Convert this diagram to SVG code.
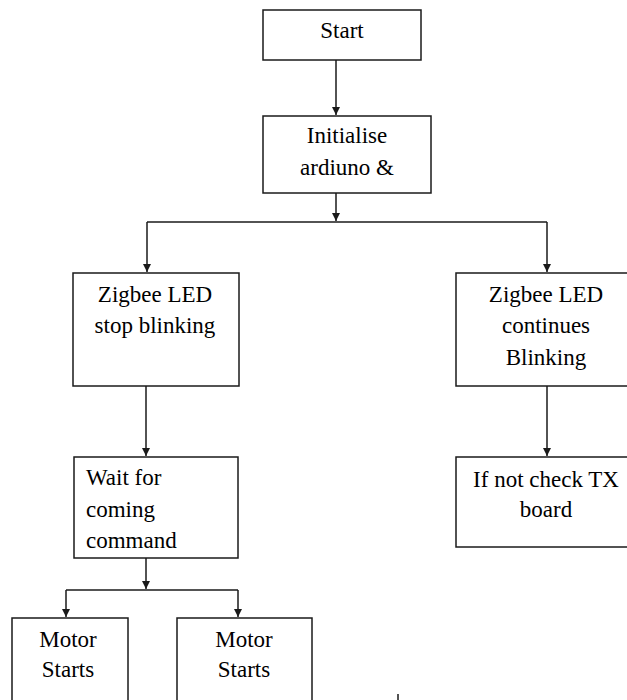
<svg xmlns="http://www.w3.org/2000/svg" width="627" height="700" viewBox="0 0 627 700">
<style>
.box{fill:#fff;stroke:#1a1a1a;stroke-width:1.5}
.ln{fill:none;stroke:#1a1a1a;stroke-width:1.5}
text{font-family:'Liberation Serif','Times New Roman','DejaVu Serif',serif;font-size:23px;fill:#000}
.c{text-anchor:middle}
</style>
<defs>
<marker id="ah" viewBox="0 0 10 10" refX="10" refY="5" markerWidth="8" markerHeight="8" markerUnits="userSpaceOnUse" orient="auto">
<path d="M0,0 L10,5 L0,10 Z" fill="#1a1a1a"/>
</marker>
</defs>
<rect width="627" height="700" fill="#fff"/>
<g id="connectors">
<path class="ln" d="M336,60 V115" marker-end="url(#ah)"/>
<path class="ln" d="M336,193 V221"  marker-end="url(#ah)"/>
<path class="ln" d="M147,222 H547"/>
<path class="ln" d="M147,222 V272" marker-end="url(#ah)"/>
<path class="ln" d="M547,222 V272" marker-end="url(#ah)"/>
<path class="ln" d="M547,386 V456" marker-end="url(#ah)"/>
<path class="ln" d="M146,386 V456" marker-end="url(#ah)"/>
<path class="ln" d="M146,558 V589" marker-end="url(#ah)"/>
<path class="ln" d="M66,590 H238"/>
<path class="ln" d="M66,590 V617" marker-end="url(#ah)"/>
<path class="ln" d="M238,590 V617" marker-end="url(#ah)"/>
<path class="ln" d="M398,694 V700"/>
</g>
<g id="start">
<rect class="box" x="263" y="10" width="158" height="50"/>
<text class="c" x="342" y="38" font-family="Liberation Serif, serif">Start</text>
</g>
<g id="init">
<rect class="box" x="263" y="116" width="168" height="77"/>
<text class="c" x="347" y="143">Initialise</text>
<text class="c" x="347" y="175">ardiuno &amp;</text>
</g>
<g id="stop">
<rect class="box" x="73" y="273" width="166" height="113"/>
<text class="c" x="155" y="302">Zigbee LED</text>
<text class="c" x="155" y="333">stop blinking</text>
</g>
<g id="continues">
<rect class="box" x="456" y="273" width="180" height="113"/>
<text class="c" x="546" y="302">Zigbee LED</text>
<text class="c" x="546" y="333">continues</text>
<text class="c" x="546" y="365">Blinking</text>
</g>
<g id="checktx">
<rect class="box" x="456" y="457" width="180" height="90"/>
<text class="c" x="546" y="487">If not check TX</text>
<text class="c" x="546" y="517">board</text>
</g>
<g id="wait">
<rect class="box" x="74" y="457" width="164" height="101"/>
<text x="86" y="485">Wait for</text>
<text x="86" y="517">coming</text>
<text x="86" y="548">command</text>
</g>
<g id="motor1">
<rect class="box" x="12" y="618" width="116" height="100"/>
<text class="c" x="68" y="647">Motor</text>
<text class="c" x="68" y="677">Starts</text>
</g>
<g id="motor2">
<rect class="box" x="177" y="618" width="135" height="100"/>
<text class="c" x="244" y="647">Motor</text>
<text class="c" x="244" y="677">Starts</text>
</g>
</svg>
